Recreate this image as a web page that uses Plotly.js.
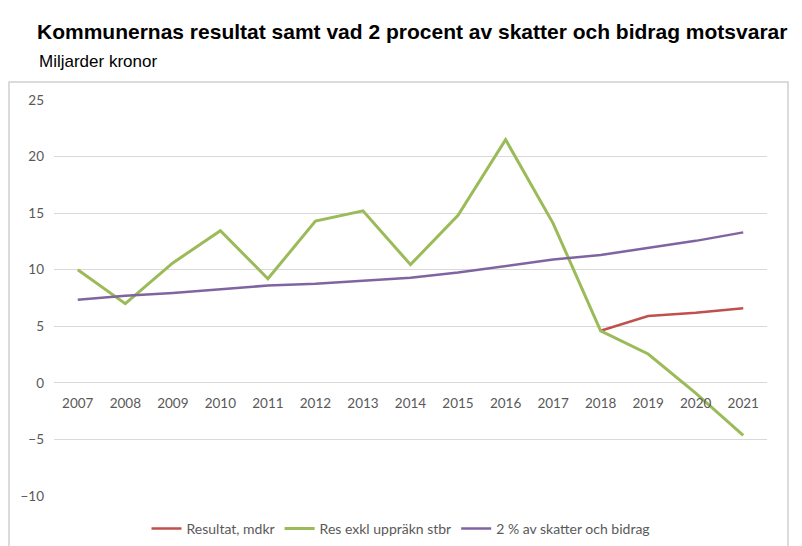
<!DOCTYPE html>
<html>
<head>
<meta charset="utf-8">
<script src="https://cdn.plot.ly/plotly-3.0.1.min.js"></script>
<style>
	html, body { margin: 0; padding: 0; background: #fff; }
	#chart { width: 802px; height: 546px; }
</style>
</head>
<body>
<div id="chart"></div>
<script>
// Years on the category axis.
var years = [ "2007", "2008", "2009", "2010", "2011", "2012", "2013",
	"2014", "2015", "2016", "2017", "2018", "2019", "2020", "2021" ];

// Resultat, mdkr (only 2018 onwards).
var resultat = [ null, null, null, null, null, null, null,
	null, null, null, null, 4.6, 5.9, 6.2, 6.6 ];

// Res exkl uppräkn stbr
var resExkl = [ 10.0, 7.0, 10.6, 13.45, 9.2, 14.3, 15.2,
	10.45, 14.8, 21.5, 14.1, 4.6, 2.55, -0.9, -4.65 ];

// 2 % av skatter och bidrag
var tvaProcent = [ 7.35, 7.7, 7.95, 8.3, 8.6, 8.75, 9.0,
	9.3, 9.75, 10.35, 10.9, 11.3, 11.95, 12.55, 13.3 ];

var yTicks = [ -10, -5, 0, 5, 10, 15, 20, 25 ];
var yMin = -10, yMax = 25;

var labelColor = "#595959",
	gridColor = "#D9D9D9",
	baseFont = "Lato, 'Open Sans', sans-serif",
	headFont = "'Liberation Sans', Arial, sans-serif";

var traces = [
	{ x: years, y: resultat, name: "Resultat, mdkr", type: "scatter", mode: "lines",
		line: { color: "#C0504D", width: 2.5 } },
	{ x: years, y: resExkl, name: "Res exkl uppräkn stbr", type: "scatter", mode: "lines",
		line: { color: "#9BBB59", width: 3 } },
	{ x: years, y: tvaProcent, name: "2 % av skatter och bidrag", type: "scatter", mode: "lines",
		line: { color: "#8064A2", width: 2.5 } }
];

var layout = {
	width: 802,
	height: 546,
	margin: { l: 54, r: 35, t: 100, b: 50, autoexpand: false },
	paper_bgcolor: "#ffffff",
	plot_bgcolor: "#ffffff",
	showlegend: true,
	title: {
		text: "<b>Kommunernas resultat samt vad 2 procent av skatter och bidrag motsvarar</b>",
		font: { family: headFont, size: 21, color: "#000" },
		xref: "container", yref: "container",
		x: 37 / 802, xanchor: "left",
		y: 1 - 32 / 546, yanchor: "middle"
	},
	xaxis: {
		type: "category",
		range: [ -0.5, years.length - 0.5 ],
		anchor: "free",
		position: ( 0 - yMin ) / ( yMax - yMin ),	// labels sit under the zero line
		showgrid: false,
		zeroline: false,
		showline: false,
		ticks: "",
		ticklabelstandoff: 11,
		tickfont: { family: baseFont, size: 13.5, color: labelColor },
		fixedrange: true
	},
	yaxis: {
		range: [ yMin, yMax ],
		tickvals: yTicks,
		showgrid: true,
		gridcolor: gridColor,
		gridwidth: 1,
		zeroline: true,
		zerolinecolor: gridColor,
		zerolinewidth: 1,
		showline: false,
		ticks: "",
		ticklabelstandoff: 9,
		tickfont: { family: baseFont, size: 13.5, color: labelColor },
		fixedrange: true
	},
	legend: {
		orientation: "h",
		xref: "container",
		x: 0.5, xanchor: "center",
		yref: "container",
		y: 1 - 529 / 546, yanchor: "middle",
		font: { family: baseFont, size: 14, color: labelColor },
		itemwidth: 30
	},
	annotations: [
		{
			text: "Miljarder kronor",
			xref: "paper", yref: "paper",
			x: ( 37 - 54 ) / 713, xanchor: "left",
			y: 1 + ( 100 - 62 ) / 396, yanchor: "middle",
			showarrow: false,
			font: { family: headFont, size: 17, color: "#000" }
		}
	],
	shapes: [
		// chart frame
		{ type: "rect", xref: "paper", yref: "paper",
			x0: ( 9 - 54 ) / 713, x1: ( 788 - 54 ) / 713,
			y0: -0.2, y1: 1 + ( 100 - 82 ) / 396,
			line: { color: "#D0D0D0", width: 1.5 }, fillcolor: "rgba(0,0,0,0)", layer: "below" }
	]
};

Plotly.newPlot( "chart", traces, layout, { staticPlot: true } );
</script>
</body>
</html>
